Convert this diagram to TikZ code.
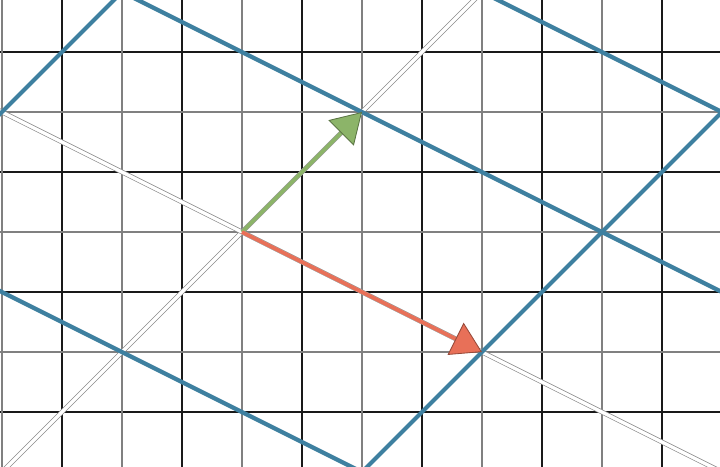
\documentclass[tikz,border=0pt]{standalone}
\usetikzlibrary{arrows.meta,calc}
\definecolor{latblue}{RGB}{62,128,160}
\definecolor{vgreen}{RGB}{140,180,105}
\definecolor{vred}{RGB}{232,112,88}
\begin{document}
\begin{tikzpicture}[x=1cm,y=1cm,
  minorline/.style={black!90, line width=0.5pt},
  majorline/.style={black!50, line width=1.3pt},
  spanline/.style={draw=black!45, double=white, double distance=1.6pt, line width=0.35pt},
  latline/.style={latblue, line width=2pt},
  vecg/.style={vgreen, line width=1.8pt, -{Triangle[length=14pt,width=17pt,fill=vgreen,color=vgreen!65!black,line width=0.4pt]}},
  vecr/.style={vred, line width=1.8pt, -{Triangle[length=14pt,width=17pt,fill=vred,color=vred!65!black,line width=0.4pt]}}]
\useasboundingbox (-4.033,-3.9) rectangle (7.967,3.867);
\clip (-4.033,-3.9) rectangle (7.967,3.867);
% grid
\foreach \x in {-3,-1,...,7} \draw[minorline] (\x,-4) -- (\x,4);
\foreach \y in {-3,-1,...,3} \draw[minorline] (-5,\y) -- (9,\y);
\foreach \x in {-4,-2,...,8} \draw[majorline] (\x,-4) -- (\x,4);
\foreach \y in {-4,-2,...,4} \draw[majorline] (-5,\y) -- (9,\y);
% lattice points
\coordinate (O) at (0,0);
\coordinate (g) at (2,2);
\coordinate (r) at (4,-2);
\coordinate (mr) at (-4,2);
\coordinate (mg) at (-2,-2);
\coordinate (gg) at (4,4);
% span lines through origin
\draw[spanline] ($(O)+(-5,-5)$) -- ($(O)+(5,5)$);
\draw[spanline] ($(O)+(-10,5)$) -- ($(O)+(10,-5)$);
% lattice lines
\draw[latline] ($(mr)+(-2,-2)$) -- ($(mr)+(3,3)$);
\draw[latline] ($(r)+(-3,-3)$) -- ($(r)+(5,5)$);
\draw[latline] ($(g)+(-8,4)$) -- ($(g)+(8,-4)$);
\draw[latline] ($(gg)+(-8,4)$) -- ($(gg)+(8,-4)$);
\draw[latline] ($(mg)+(-8,4)$) -- ($(mg)+(8,-4)$);
% vectors
\draw[vecg] (O) -- (g);
\draw[vecr] (O) -- (r);
\end{tikzpicture}
\end{document}
